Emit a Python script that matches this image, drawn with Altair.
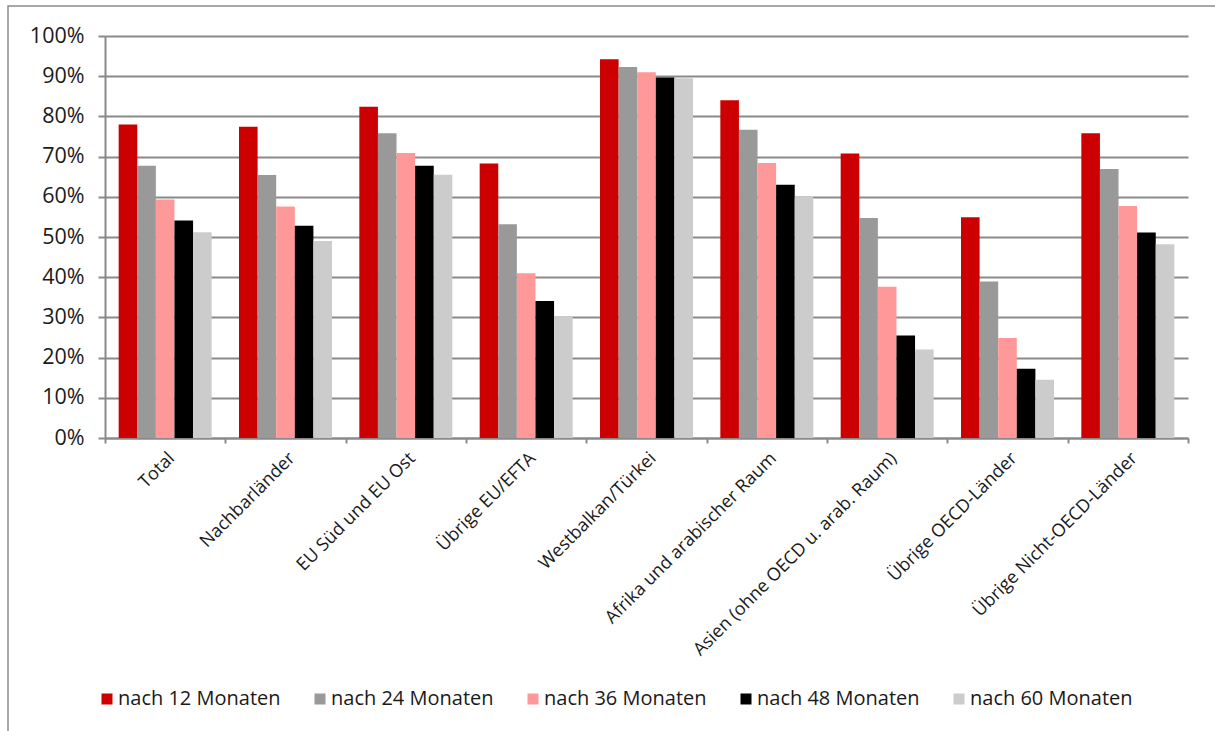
import altair as alt
import pandas as pd

# Regions of origin (x categories)
regions = [
    "Total",
    "Nachbarländer",
    "EU Süd und EU Ost",
    "Übrige EU/EFTA",
    "Westbalkan/Türkei",
    "Afrika und arabischer Raum",
    "Asien (ohne OECD u. arab. Raum)",
    "Übrige OECD-Länder",
    "Übrige Nicht-OECD-Länder",
]

# Series: share still present after n months
series = [
    "nach 12 Monaten",
    "nach 24 Monaten",
    "nach 36 Monaten",
    "nach 48 Monaten",
    "nach 60 Monaten",
]

m12 = [0.780, 0.774, 0.824, 0.683, 0.942, 0.840, 0.708, 0.549, 0.758]
m24 = [0.677, 0.654, 0.758, 0.532, 0.923, 0.767, 0.547, 0.389, 0.669]
m36 = [0.593, 0.576, 0.709, 0.410, 0.910, 0.684, 0.376, 0.249, 0.577]
m48 = [0.541, 0.528, 0.677, 0.341, 0.897, 0.630, 0.255, 0.172, 0.511]
m60 = [0.512, 0.490, 0.655, 0.303, 0.895, 0.601, 0.220, 0.145, 0.482]

colors = ["#CC0000", "#999999", "#FF9999", "#000000", "#CCCCCC"]

rows = []
for s, vals in zip(series, [m12, m24, m36, m48, m60]):
    for r, v in zip(regions, vals):
        rows.append({"Region": r, "Serie": s, "Anteil": v})
df = pd.DataFrame(rows)

FONT = "Open Sans"
TEXT = "#1a1a1a"
GRID = "#8a8a8a"
W, H = 1083, 402
LEFT, TOP = 105, 36

bars = alt.Chart(df).mark_bar().encode(
    x=alt.X(
        "Region:N",
        sort=regions,
        scale=alt.Scale(paddingInner=0, paddingOuter=0),
        axis=alt.Axis(
            title=None,
            labelAngle=-45,
            labelFont=FONT,
            labelFontSize=18,
            labelColor=TEXT,
            labelPadding=6,
            labelLimit=400,
            tickBand="extent",
            tickSize=5,
            tickColor=GRID,
            tickWidth=2,
            domainColor=GRID,
            domainWidth=2,
            grid=False,
        ),
    ),
    xOffset=alt.XOffset(
        "Serie:N",
        sort=series,
        scale=alt.Scale(paddingInner=0, paddingOuter=0.735),
    ),
    y=alt.Y(
        "Anteil:Q",
        scale=alt.Scale(domain=[0, 1], nice=False),
        axis=alt.Axis(
            title=None,
            format=".0%",
            values=[i / 10 for i in range(11)],
            labelFont=FONT,
            labelFontSize=21.5,
            labelColor=TEXT,
            labelPadding=14,
            tickSize=7,
            tickColor=GRID,
            tickWidth=2,
            domainColor=GRID,
            domainWidth=2,
            grid=True,
            gridColor=GRID,
            gridWidth=2,
        ),
    ),
    color=alt.Color(
        "Serie:N",
        sort=series,
        scale=alt.Scale(domain=series, range=colors),
        legend=alt.Legend(
            title=None,
            orient="none",
            direction="horizontal",
            columns=5,
            legendX=-8,
            legendY=653,
            symbolType="square",
            symbolSize=121,
            symbolStrokeWidth=0,
            labelFont=FONT,
            labelFontSize=20,
            labelColor=TEXT,
            labelOffset=1,
            labelLimit=400,
            columnPadding=29,
        ),
    ),
)

# thin grey frame around the whole graphic
frame = alt.Chart(pd.DataFrame({"k": [0]})).mark_rect(
    fill=None, stroke=GRID, strokeWidth=1.5
).encode(
    x=alt.value(8 - LEFT),
    x2=alt.value(1240 - LEFT),
    y=alt.value(6 - TOP),
    y2=alt.value(760 - TOP),
)

chart = alt.layer(frame, bars).properties(
    width=W,
    height=H,
    autosize=alt.AutoSizeParams(type="none"),
    padding={"left": LEFT, "top": TOP, "right": 1215 - LEFT - W, "bottom": 731 - TOP - H},
    background="white",
).configure_view(stroke=None)

chart.save("out.html", embed_options={"renderer": "svg", "actions": False})
